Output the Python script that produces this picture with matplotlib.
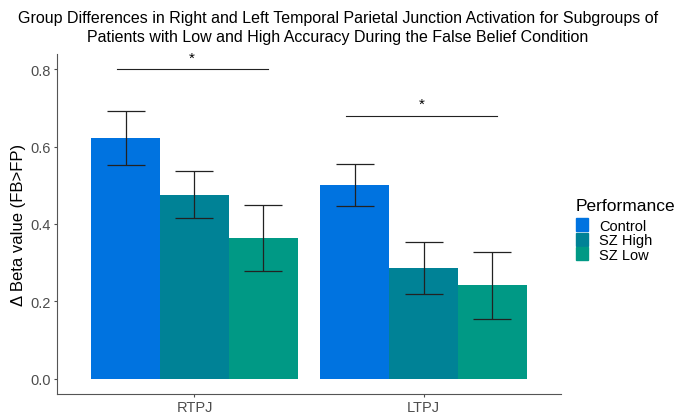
import matplotlib.pyplot as plt
import numpy as np
from matplotlib.patches import Patch

plt.rcParams['font.family'] = ['Liberation Sans', 'DejaVu Sans']

regions = ['RTPJ', 'LTPJ']
groups = ['Control', 'SZ High', 'SZ Low']
colors = ['#0073E0', '#008296', '#009985']

means = {
    'Control': [0.622, 0.500],
    'SZ High': [0.475, 0.287],
    'SZ Low': [0.364, 0.241],
}
err_lo = {
    'Control': [0.552, 0.446],
    'SZ High': [0.415, 0.220],
    'SZ Low': [0.279, 0.153],
}
err_hi = {
    'Control': [0.692, 0.555],
    'SZ High': [0.536, 0.354],
    'SZ Low': [0.449, 0.328],
}
sig_y = [0.80, 0.68]

fig = plt.figure(figsize=(6.76, 4.14), dpi=100)
ax = fig.add_axes([57/676, 19/414, (561-57)/676, (395-55)/414])

x = np.arange(len(regions))
width = 0.3
for i, g in enumerate(groups):
    pos = x + (i - 1) * width
    ax.bar(pos, means[g], width, color=colors[i], label=g, zorder=2)
    m = np.array(means[g])
    yerr = [m - np.array(err_lo[g]), np.array(err_hi[g]) - m]
    ax.errorbar(pos, m, yerr=yerr, fmt='none', ecolor='#222222',
                elinewidth=0.9, capsize=13.5, capthick=0.9, zorder=3)

# significance brackets
for j, y in enumerate(sig_y):
    ax.plot([x[j] - 0.34, x[j] + 0.32], [y, y], color='#222222', lw=0.8)
    ax.text(x[j] - 0.01, y + 0.012, '*', ha='center', va='bottom', fontsize=11)

ax.set_xlim(-0.6, 1.6)
ax.set_ylim(-0.04, 0.84)
ax.set_xticks(x)
ax.set_xticklabels(regions)
ax.set_yticks([0.0, 0.2, 0.4, 0.6, 0.8])
ax.set_yticklabels(['0.0', '0.2', '0.4', '0.6', '0.8'])
ax.tick_params(colors='#4d4d4d', labelsize=10.5, length=2.5, pad=2)
for s in ['top', 'right']:
    ax.spines[s].set_visible(False)
for s in ['left', 'bottom']:
    ax.spines[s].set_color('#555555')
    ax.spines[s].set_linewidth(0.8)
ax.set_ylabel('Δ Beta value (FB>FP)', fontsize=12, labelpad=3)

fig.text(0.50, 1 - 11/414,
         'Group Differences in Right and Left Temporal Parietal Junction Activation for Subgroups of\n'
         'Patients with Low and High Accuracy During the False Belief Condition',
         fontsize=11.5, ha='center', va='top', linespacing=1.3)

handles = [Patch(color=c, label=g) for c, g in zip(colors, groups)]
leg = fig.legend(handles=handles, title='Performance', loc='upper left',
                 bbox_to_anchor=(570/676, 1 - 193/414), frameon=False,
                 fontsize=10.5, title_fontsize=12.5, handlelength=0.8,
                 handleheight=1.0, handletextpad=0.8, labelspacing=0.0,
                 borderaxespad=0)
leg._legend_box.align = 'left'
leg._legend_box.sep = 4

fig.savefig('out.png', dpi=100)
